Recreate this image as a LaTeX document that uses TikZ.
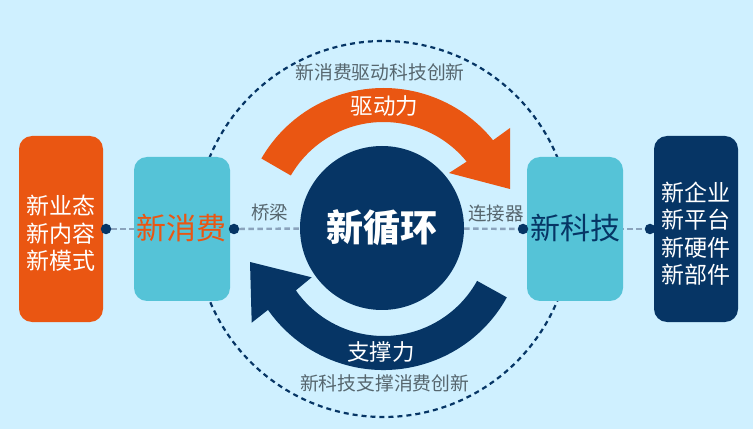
\documentclass[tikz,border=0pt]{standalone}
\usepackage{fontspec}
\setmainfont{Noto Sans CJK SC}
\usetikzlibrary{backgrounds,calc}
\definecolor{bgblue}{HTML}{CFF0FF}
\definecolor{ordeep}{HTML}{EA5612}
\definecolor{tealbox}{HTML}{55C3D7}
\definecolor{navy}{HTML}{063565}
\definecolor{labelgray}{HTML}{56666E}
\definecolor{linkgray}{HTML}{8AA3BC}
\tikzset{
  x=1pt,y=1pt,
  sidebox/.style={rounded corners=13pt,minimum width=84pt,minimum height=186pt,inner sep=0pt},
  sidetext/.style={inner sep=0pt,text=white,font=\fontsize{23}{27.5}\selectfont,align=center},
  midbox/.style={fill=tealbox,rounded corners=13pt,minimum width=96pt,minimum height=144pt,inner sep=0pt},
  midtext/.style={inner sep=0pt,font=\fontsize{30}{34}\selectfont},
  dotnode/.style={circle,fill=navy,minimum size=10.5pt,inner sep=0pt},
  link/.style={linkgray,line width=2.4pt,dash pattern=on 5.5pt off 3.5pt},
  ring/.style={navy,line width=2.2pt,dash pattern=on 5pt off 4pt},
  caption/.style={text=labelgray,inner sep=0pt},
  forcetext/.style={text=white,inner sep=0pt,font=\fontsize{22.5}{26}\selectfont},
}
\begin{document}
\begin{tikzpicture}
\useasboundingbox (0,0) rectangle (753,429);
% hub and ring
\coordinate (c) at (383.5,200);
\node[circle,fill=navy,minimum size=164pt,inner sep=0pt] (hub) at (382,201) {};
\node[inner sep=0pt,text=white,font=\fontsize{37}{42}\selectfont\bfseries] (hubtext) at (382,201) {新循环};
% boxes
\node[sidebox,fill=ordeep] (left) at (61,200) {};
\node[sidetext] (lefttext) at (61,195.5) {新业态\\新内容\\新模式};
\node[midbox] (consume) at (182,200) {};
\node[midtext,text=ordeep] (consumetext) at (181.5,201) {新消费};
\node[midbox] (tech) at (575,200) {};
\node[midtext,text=navy] (techtext) at (575,201) {新科技};
\node[sidebox,fill=navy] (right) at (696,200) {};
\node[sidetext] (righttext) at (696,195.5) {新企业\\新平台\\新硬件\\新部件};
% dots
\node[dotnode] (d1) at (106,200) {};
\node[dotnode] (d2) at (234,200) {};
\node[dotnode] (d3) at (523,200) {};
\node[dotnode] (d4) at (650,200) {};
% behind
\begin{pgfonlayer}{background}
\fill[bgblue] (0,0) rectangle (753,429);
\draw[ring] (c) circle[radius=188];
\draw[link] (d1) -- (d2);
\draw[link] (d2) -- (hub);
\draw[link] (hub) -- (d3);
\draw[link] (d3) -- (d4);
\end{pgfonlayer}
% arrows
\fill[ordeep] (c) ++(150:141) arc[start angle=150,end angle=39,radius=141]
  -- (510,301) -- (510,240) -- (449,256) -- ($(c)+(39:107)$)
  arc[start angle=39,end angle=150,radius=107] -- cycle;
\fill[navy] (c) ++(-29:141) arc[start angle=-29,end angle=-145,radius=141]
  -- (251.7,106.3) -- (250,167) -- (311.7,151.7) -- ($(c)+(-145:107)$)
  arc[start angle=-145,end angle=-29,radius=107] -- cycle;
% labels
\node[caption,font=\fontsize{18.8}{22}\selectfont] (top) at (380,357) {新消费驱动科技创新};
\node[forcetext] (drive) at (384.5,323) {驱动力};
\node[caption,font=\fontsize{18.5}{22}\selectfont] (bridge) at (269.5,216) {桥梁};
\node[caption,font=\fontsize{18.5}{22}\selectfont] (conn) at (496,216) {连接器};
\node[forcetext] (support) at (381,77) {支撑力};
\node[caption,font=\fontsize{18.8}{22}\selectfont] (bottom) at (384.7,46) {新科技支撑消费创新};
\end{tikzpicture}
\end{document}
